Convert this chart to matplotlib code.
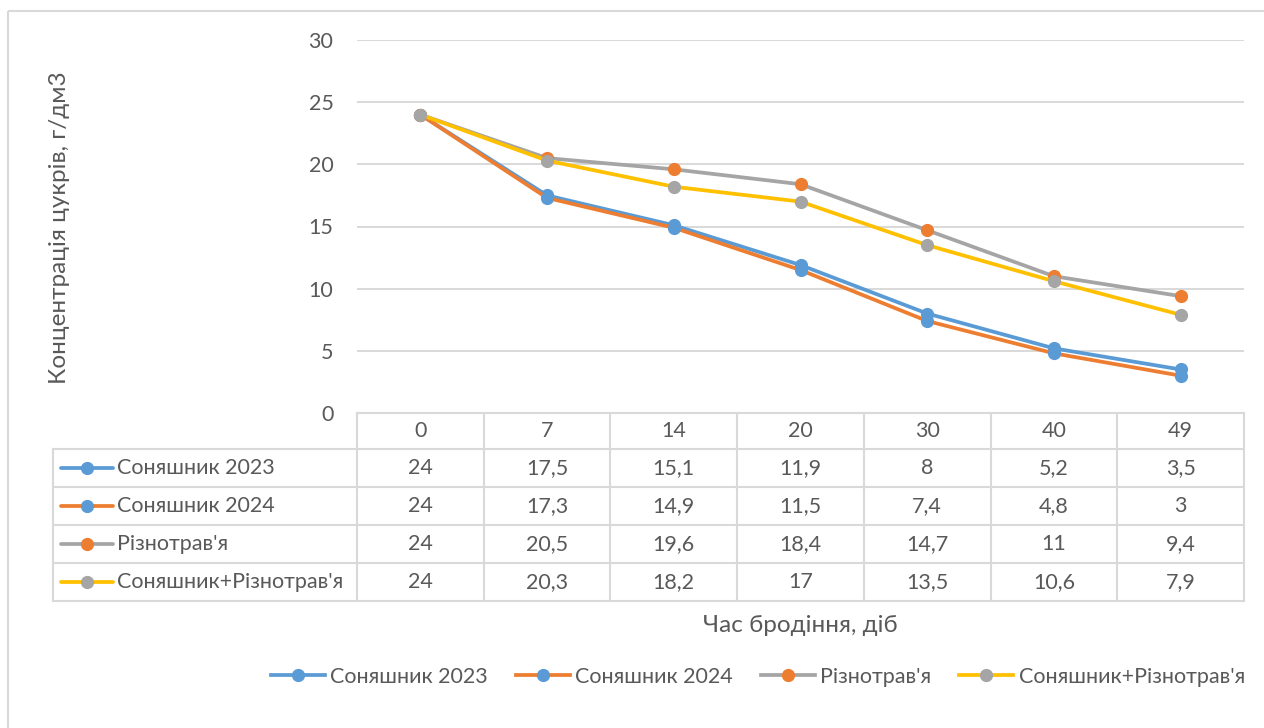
import matplotlib
matplotlib.use("Agg")
import matplotlib.pyplot as plt
from matplotlib.lines import Line2D
from matplotlib.patches import Rectangle

plt.rcParams['font.family'] = ['Lato', 'DejaVu Sans']

days = ["0", "7", "14", "20", "30", "40", "49"]
series_names = ["Соняшник 2023", "Соняшник 2024", "Різнотрав'я", "Соняшник+Різнотрав'я"]
sunflower_2023 = [24, 17.5, 15.1, 11.9, 8, 5.2, 3.5]
sunflower_2024 = [24, 17.3, 14.9, 11.5, 7.4, 4.8, 3]
mixed_herbs = [24, 20.5, 19.6, 18.4, 14.7, 11, 9.4]
sunflower_herbs = [24, 20.3, 18.2, 17, 13.5, 10.6, 7.9]
y_ticks = [0, 5, 10, 15, 20, 25, 30]
y_label = "Концентрація цукрів, г/дм3"
x_label = "Час бродіння, діб"

all_series = [sunflower_2023, sunflower_2024, mixed_herbs, sunflower_herbs]
line_colors = ["#5B9BD5", "#ED7D31", "#A5A5A5", "#FFC000"]
marker_colors = ["#5B9BD5", "#5B9BD5", "#ED7D31", "#A5A5A5"]
text_color = "#595959"
grid_color = "#D9D9D9"
fs = 15.5
fs_title = 17.5
lw_line = 2.7
ms_line = 8.5

W, H = 1264, 728
fig = plt.figure(figsize=(W / 100, H / 100), dpi=100)

# plot area in pixel coordinates
px_left, px_right, px_top, px_bottom = 357, 1244, 40, 413
ax = fig.add_axes([px_left / W, 1 - px_bottom / H,
                   (px_right - px_left) / W, (px_bottom - px_top) / H])
xs = list(range(len(days)))
for vals, lc, mc in zip(all_series, line_colors, marker_colors):
    ax.plot(xs, vals, color=lc, lw=lw_line, marker='o', ms=ms_line,
            mfc=mc, mec=mc, solid_capstyle='round', solid_joinstyle='round', zorder=3)
ax.set_xlim(-0.5, len(days) - 0.5)
ax.set_ylim(0, 30)
ax.set_yticks(y_ticks)
ax.set_yticklabels([str(t) for t in y_ticks], fontsize=fs, color=text_color)
ax.tick_params(axis='y', length=0, pad=17)
ax.set_xticks([])
for t in y_ticks[1:]:
    ax.axhline(t, color=grid_color, lw=1.4, zorder=1)
for s in ax.spines.values():
    s.set_visible(False)

# overlay in pixel coordinates for the data table and frame
ov = fig.add_axes([0, 0, 1, 1])
ov.set_xlim(0, W)
ov.set_ylim(H, 0)
ov.axis('off')
ov.patch.set_alpha(0)

ov.add_patch(Rectangle((8, 11), W, H, fill=False, ec=grid_color, lw=1.5))

col_w = (px_right - px_left) / len(days)
row_edges = [413, 449, 487, 525, 563, 601]
tbl_left = 53
lw_t = 1.5
# header row
ov.plot([px_left, px_right], [row_edges[0]] * 2, color=grid_color, lw=lw_t)
for r in row_edges[1:]:
    ov.plot([tbl_left, px_right], [r, r], color=grid_color, lw=lw_t)
ov.plot([tbl_left, tbl_left], [row_edges[1], row_edges[-1]], color=grid_color, lw=lw_t)
for i in range(len(days) + 1):
    x = px_left + i * col_w
    ov.plot([x, x], [row_edges[0], row_edges[-1]], color=grid_color, lw=lw_t)

for i, d in enumerate(days):
    cx = px_left + (i + 0.5) * col_w
    ov.text(cx, (row_edges[0] + row_edges[1]) / 2, d, ha='center', va='center',
            fontsize=fs, color=text_color)


def fmt(v):
    s = ("%g" % v)
    return s.replace('.', ',')


for r, (name, vals, lc, mc) in enumerate(zip(series_names, all_series, line_colors, marker_colors)):
    cy = (row_edges[r + 1] + row_edges[r + 2]) / 2
    ov.plot([61, 113], [cy, cy], color=lc, lw=lw_line, solid_capstyle='round')
    ov.plot([87], [cy], marker='o', ms=ms_line, mfc=mc, mec=mc)
    ov.text(117, cy, name, ha='left', va='center', fontsize=fs, color=text_color)
    for i, v in enumerate(vals):
        cx = px_left + (i + 0.5) * col_w
        ov.text(cx, cy, fmt(v), ha='center', va='center', fontsize=fs, color=text_color)

ov.text(800, 626, x_label, ha='center', va='center', fontsize=fs_title, color=text_color)
ov.text(60, 228, y_label, ha='center', va='center', rotation=90, fontsize=fs_title, color=text_color)

handles = [Line2D([0], [0], color=lc, lw=lw_line, marker='o', ms=ms_line, mfc=mc, mec=mc)
           for lc, mc in zip(line_colors, marker_colors)]
fig.legend(handles, series_names, loc='center', bbox_to_anchor=(758 / W, 1 - 677 / H),
           ncol=4, frameon=False, fontsize=fs, labelcolor=text_color,
           handlelength=2.5, handletextpad=0.25, columnspacing=1.3)

fig.savefig("out.png", dpi=100)
